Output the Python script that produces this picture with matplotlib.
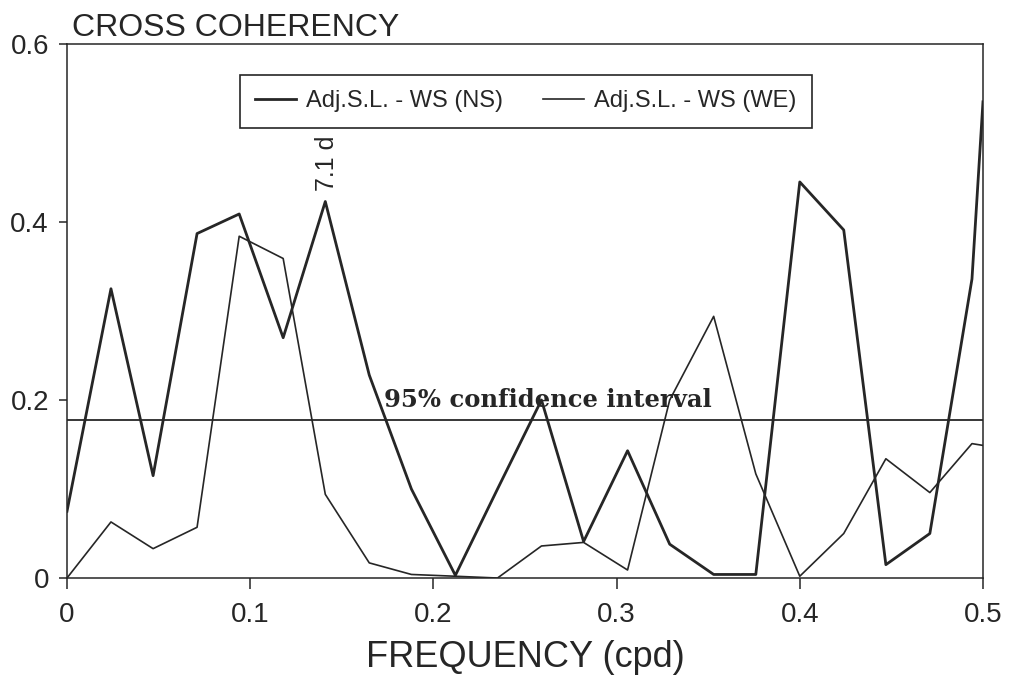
import matplotlib
matplotlib.use('Agg')
import matplotlib.pyplot as plt

plt.rcParams['font.family'] = ['Liberation Sans', 'DejaVu Sans']

# frequency grid (cpd)
freq = [0, 0.024, 0.047, 0.071, 0.094, 0.118, 0.141, 0.165, 0.188, 0.212, 0.235, 0.259,
        0.282, 0.306, 0.329, 0.353, 0.376, 0.4, 0.424, 0.447, 0.471, 0.494, 0.5]

# Adj.S.L. - WS (NS)  (thick line)
coh_ns = [0.075, 0.325, 0.115, 0.387, 0.409, 0.270, 0.423, 0.228, 0.100, 0.003, 0.100, 0.200,
          0.041, 0.143, 0.038, 0.004, 0.004, 0.445, 0.391, 0.015, 0.050, 0.336, 0.535]

# Adj.S.L. - WS (WE)  (thin line)
coh_we = [0.0, 0.063, 0.033, 0.057, 0.384, 0.359, 0.094, 0.017, 0.004, 0.002, 0.0, 0.036,
          0.040, 0.009, 0.200, 0.294, 0.117, 0.002, 0.050, 0.134, 0.096, 0.151, 0.149]

CONF_95 = 0.177
PEAK_FREQ = 0.141
PEAK_VAL = 0.423

x_ticks = [0, 0.1, 0.2, 0.3, 0.4, 0.5]
x_tick_labels = ['0', '0.1', '0.2', '0.3', '0.4', '0.5']
y_ticks = [0, 0.2, 0.4, 0.6]
y_tick_labels = ['0', '0.2', '0.4', '0.6']

INK = '#262626'

fig = plt.figure(figsize=(10.09, 6.86), dpi=100)
ax = fig.add_axes([0.0664, 0.1574, 0.9078, 0.7785])

ax.plot(freq, coh_ns, color=INK, lw=2.0, label='Adj.S.L. - WS (NS)')
ax.plot(freq, coh_we, color=INK, lw=1.2, label='Adj.S.L. - WS (WE)')
ax.axhline(CONF_95, color=INK, lw=1.3)

ax.text(0.173, CONF_95 + 0.010, '95% confidence interval', family='DejaVu Serif',
        fontweight='bold', fontsize=17.5, color=INK, va='bottom', ha='left')
ax.text(PEAK_FREQ + 0.001, PEAK_VAL + 0.012, '7.1 d', rotation=90, fontsize=18,
        color=INK, ha='center', va='bottom')

ax.set_xlim(0, 0.5)
ax.set_ylim(0, 0.6)
ax.set_xticks(x_ticks)
ax.set_xticklabels(x_tick_labels)
ax.set_yticks(y_ticks)
ax.set_yticklabels(y_tick_labels)
ax.tick_params(axis='x', direction='out', length=8, width=1.1, pad=9, labelsize=20, colors=INK)
ax.tick_params(axis='y', direction='out', length=6, width=1.1, pad=7, labelsize=20, colors=INK)
for s in ax.spines.values():
    s.set_linewidth(1.1)
    s.set_color(INK)

ax.set_xlabel('FREQUENCY (cpd)', fontsize=26, color=INK, labelpad=9)
fig.text(0.071, 1 - 36 / 686, 'CROSS COHERENCY', fontsize=23, color=INK,
         ha='left', va='baseline')

leg = ax.legend(ncol=2, loc='upper left', bbox_to_anchor=(0.189, 0.942), borderaxespad=0,
                fancybox=False, edgecolor=INK, framealpha=1, fontsize=17,
                handlelength=1.7, handletextpad=0.45, columnspacing=1.7, borderpad=0.65)
leg.get_frame().set_linewidth(1.2)
for t in leg.get_texts():
    t.set_color(INK)

fig.savefig('out.png', dpi=100)
